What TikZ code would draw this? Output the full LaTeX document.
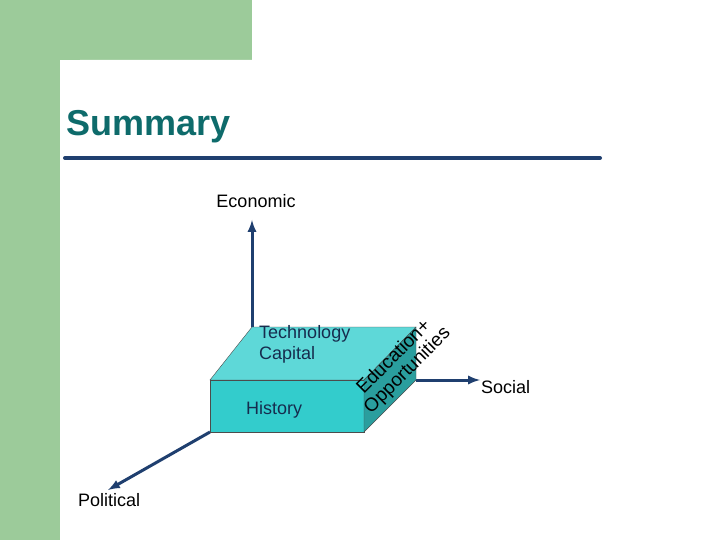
\documentclass[tikz,border=0pt]{standalone}
\usepackage{fontspec}
\setmainfont{Liberation Sans}
\definecolor{gr}{HTML}{9CCB9A}
\definecolor{nav}{HTML}{1F3F6F}
\definecolor{tt}{HTML}{0E6B6B}
\definecolor{topf}{HTML}{5ED8D8}
\definecolor{frontf}{HTML}{33CCCC}
\definecolor{sidef}{HTML}{2A9E9E}
\begin{document}
\begin{tikzpicture}[x=1pt,y=-1pt,
  ax/.style={nav,line width=3pt,-latex},
  lbl/.style={font=\fontsize{18}{20}\selectfont,text=black,inner sep=0pt},
  face/.style={draw=black!70,line width=0.4pt}]
\useasboundingbox (0,0) rectangle (720,540);
\fill[gr] (0,0) rectangle (252,60);
\fill[gr] (0,0) rectangle (60,540);
\fill[white,rounded corners=20pt] (60,60) rectangle (740,560);
\fill[white] (100,60) rectangle (740,560);
\fill[white] (60,100) rectangle (740,560);
\node[anchor=west,text=tt,font=\fontsize{36}{40}\selectfont\bfseries,inner sep=0pt] (title) at (66,127) {Summary};
\coordinate (l1) at (65,158); \coordinate (l2) at (600,158);
\draw[nav,line width=4pt,line cap=round] (l1) -- (l2);
\coordinate (o) at (252,327);
\coordinate (e) at (252,220);
\coordinate (s0) at (416,380);
\coordinate (s1) at (480,380);
\coordinate (p0) at (210,432);
\coordinate (p1) at (108,490);
\draw[ax] (o) -- (e);
\draw[ax] (s0) -- (s1);
\draw[ax] (p0) -- (p1);
\filldraw[face,fill=topf] (252,327) -- (416,327) -- (364,380) -- (210,380) -- cycle;
\filldraw[face,fill=frontf] (210,380) rectangle (364,432);
\filldraw[face,fill=sidef] (364,380) -- (416,327) -- (416,380) -- (364,432) -- cycle;
\node[lbl,anchor=south] (econ) at (256,208) {Economic};
\node[lbl,anchor=west] (soc) at (481,387) {Social};
\node[lbl,anchor=west] (pol) at (78,500) {Political};
\node[lbl,anchor=west,text=nav!70!black,align=left] (tech) at (259,344) {Technology\\[1pt]Capital};
\node[lbl,anchor=west,text=nav!70!black] (hist) at (246,410) {History};
\node[lbl,rotate=45,align=center,font=\fontsize{19}{19}\selectfont] (edu) at (401,364) {Education+\\Opportunities};
\end{tikzpicture}
\end{document}
